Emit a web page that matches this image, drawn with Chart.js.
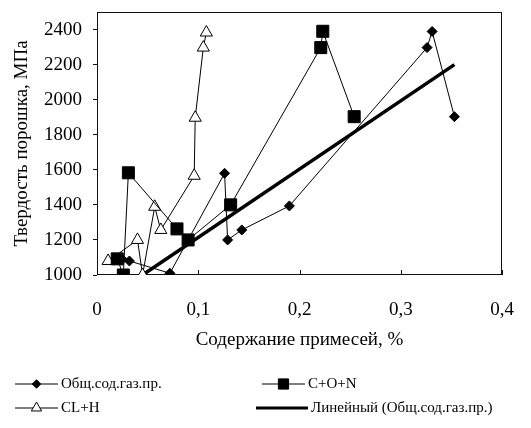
<!DOCTYPE html>
<html>
<head>
<meta charset="utf-8">
<script src="https://cdn.jsdelivr.net/npm/chart.js@4.4.0/dist/chart.umd.min.js"></script>
<style>
  body { margin: 0; background: #fff; }
</style>
</head>
<body>
<canvas id="hardnessChart" width="531" height="428"></canvas>
<script>
// Общ.сод.газ.пр.
const totalX = [0.025, 0.032, 0.072, 0.126, 0.129, 0.143, 0.19, 0.326, 0.331, 0.353];
const totalY = [1090, 1080, 1010, 1580, 1200, 1257, 1394, 2297, 2389, 1903];
// C+O+N
const conX = [0.020, 0.026, 0.031, 0.079, 0.090, 0.132, 0.221, 0.223, 0.254];
const conY = [1092, 1000, 1583, 1263, 1200, 1400, 2297, 2390, 1903];
// CL+H
const clhX = [0.011, 0.040, 0.045, 0.057, 0.063, 0.096, 0.097, 0.105, 0.108];
const clhY = [1080, 1200, 1000, 1389, 1257, 1566, 1897, 2297, 2383];
// Линейный (Общ.сод.газ.пр.)
const trendX = [0.045, 0.353];
const trendY = [1000, 2200];

const xTicks = [0, 0.1, 0.2, 0.3, 0.4];
const xTickLabels = ['0', '0,1', '0,2', '0,3', '0,4'];
const yTicks = [1000, 1200, 1400, 1600, 1800, 2000, 2200, 2400];
const yTickLabels = ['1000', '1200', '1400', '1600', '1800', '2000', '2200', '2400'];

const seriesNames = ['Общ.сод.газ.пр.', 'C+O+N', 'CL+H', 'Линейный (Общ.сод.газ.пр.)'];

const pts = (xs, ys) => xs.map((x, i) => ({ x: x, y: ys[i] }));

const FONT = 'Liberation Serif';

// plot box + inward x ticks
const frame = {
  id: 'frame',
  beforeDatasetsDraw(chart) {
    const { ctx, chartArea: a } = chart;
    const xs = chart.scales.x;
    ctx.save();
    ctx.strokeStyle = '#111';
    ctx.lineWidth = 1;
    ctx.strokeRect(a.left + 0.5, a.top + 0.5, a.right - a.left - 1, a.bottom - a.top - 1);
    ctx.beginPath();
    xTicks.forEach(v => {
      const px = Math.round(xs.getPixelForValue(v)) + 0.5;
      ctx.moveTo(px, a.bottom);
      ctx.lineTo(px, a.bottom - 5);
    });
    ctx.stroke();
    ctx.restore();
  }
};

// legend like the excel one: two columns, two rows
const legendBox = {
  id: 'legendBox',
  afterDraw(chart) {
    const { ctx } = chart;
    const slots = [
      { x: 15, y: 384 }, { x: 262, y: 384 },
      { x: 15, y: 408 }, { x: 256, y: 408 }
    ];
    ctx.save();
    chart.data.datasets.forEach((ds, di) => {
      const s = slots[di];
      const len = di === 3 ? 52 : 43;
      ctx.strokeStyle = '#000';
      ctx.lineWidth = di === 3 ? 3 : 1;
      ctx.beginPath();
      ctx.moveTo(s.x, s.y);
      ctx.lineTo(s.x + len, s.y);
      ctx.stroke();
      if (ds.pointStyle && ds.pointRadius > 0) {
        ctx.fillStyle = ds.pointBackgroundColor;
        ctx.strokeStyle = ds.pointBorderColor;
        ctx.lineWidth = 1;
        Chart.helpers.drawPoint(ctx, {
          pointStyle: ds.pointStyle,
          radius: ds.pointRadius * 0.85,
          borderWidth: 1
        }, s.x + len / 2, s.y);
      }
      ctx.fillStyle = '#000';
      ctx.font = '15px "' + FONT + '"';
      ctx.textBaseline = 'middle';
      ctx.textAlign = 'left';
      ctx.fillText(seriesNames[di], s.x + len + 3, s.y);
    });
    ctx.restore();
  }
};

new Chart(document.getElementById('hardnessChart'), {
  type: 'scatter',
  data: {
    datasets: [
      {
        label: seriesNames[0],
        data: pts(totalX, totalY),
        showLine: true,
        borderColor: '#000',
        borderWidth: 1,
        pointStyle: 'rectRot',
        pointRadius: 5,
        pointBackgroundColor: '#000',
        pointBorderColor: '#000',
        pointBorderWidth: 1
      },
      {
        label: seriesNames[1],
        data: pts(conX, conY),
        showLine: true,
        borderColor: '#000',
        borderWidth: 1,
        pointStyle: 'rect',
        pointRadius: 8.5,
        pointBackgroundColor: '#000',
        pointBorderColor: '#000',
        pointBorderWidth: 1
      },
      {
        label: seriesNames[2],
        data: pts(clhX, clhY),
        showLine: true,
        borderColor: '#000',
        borderWidth: 1,
        pointStyle: 'triangle',
        pointRadius: 7,
        pointBackgroundColor: '#fff',
        pointBorderColor: '#000',
        pointBorderWidth: 1
      },
      {
        label: seriesNames[3],
        data: pts(trendX, trendY),
        showLine: true,
        borderColor: '#000',
        borderWidth: 3.5,
        pointRadius: 0,
        pointStyle: false
      }
    ]
  },
  options: {
    responsive: false,
    animation: false,
    layout: { padding: { top: 12, right: 29, left: 0, bottom: 77 } },
    plugins: {
      legend: { display: false },
      tooltip: { enabled: false }
    },
    scales: {
      x: {
        type: 'linear',
        min: 0,
        max: 0.4,
        afterBuildTicks: s => { s.ticks = xTicks.map(v => ({ value: v })); },
        afterFit: s => { s.height = 76; s.paddingLeft = 0; s.paddingRight = 0; },
        ticks: {
          callback: (v, i) => xTickLabels[i],
          color: '#000',
          font: { family: FONT, size: 19 },
          padding: 16,
          maxRotation: 0,
          autoSkip: false
        },
        grid: { display: false },
        border: { display: false },
        title: {
          display: true,
          text: 'Содержание примесей, %',
          color: '#000',
          font: { family: FONT, size: 19 },
          padding: { top: 0, bottom: 0 }
        }
      },
      y: {
        type: 'linear',
        min: 1000,
        max: 2500,
        afterBuildTicks: s => { s.ticks = yTicks.map(v => ({ value: v })); },
        afterFit: s => { s.width = 97; s.paddingTop = 0; s.paddingBottom = 0; },
        ticks: {
          callback: (v, i) => yTickLabels[i],
          color: '#000',
          font: { family: FONT, size: 19 },
          padding: 11,
          autoSkip: false
        },
        grid: { drawOnChartArea: false, tickLength: 4, color: '#111' },
        border: { display: false },
        title: {
          display: true,
          text: 'Твердость порошка, МПа',
          color: '#000',
          font: { family: FONT, size: 19 },
          padding: { top: 11, bottom: 0 }
        }
      }
    }
  },
  plugins: [frame, legendBox]
});
</script>
</body>
</html>
